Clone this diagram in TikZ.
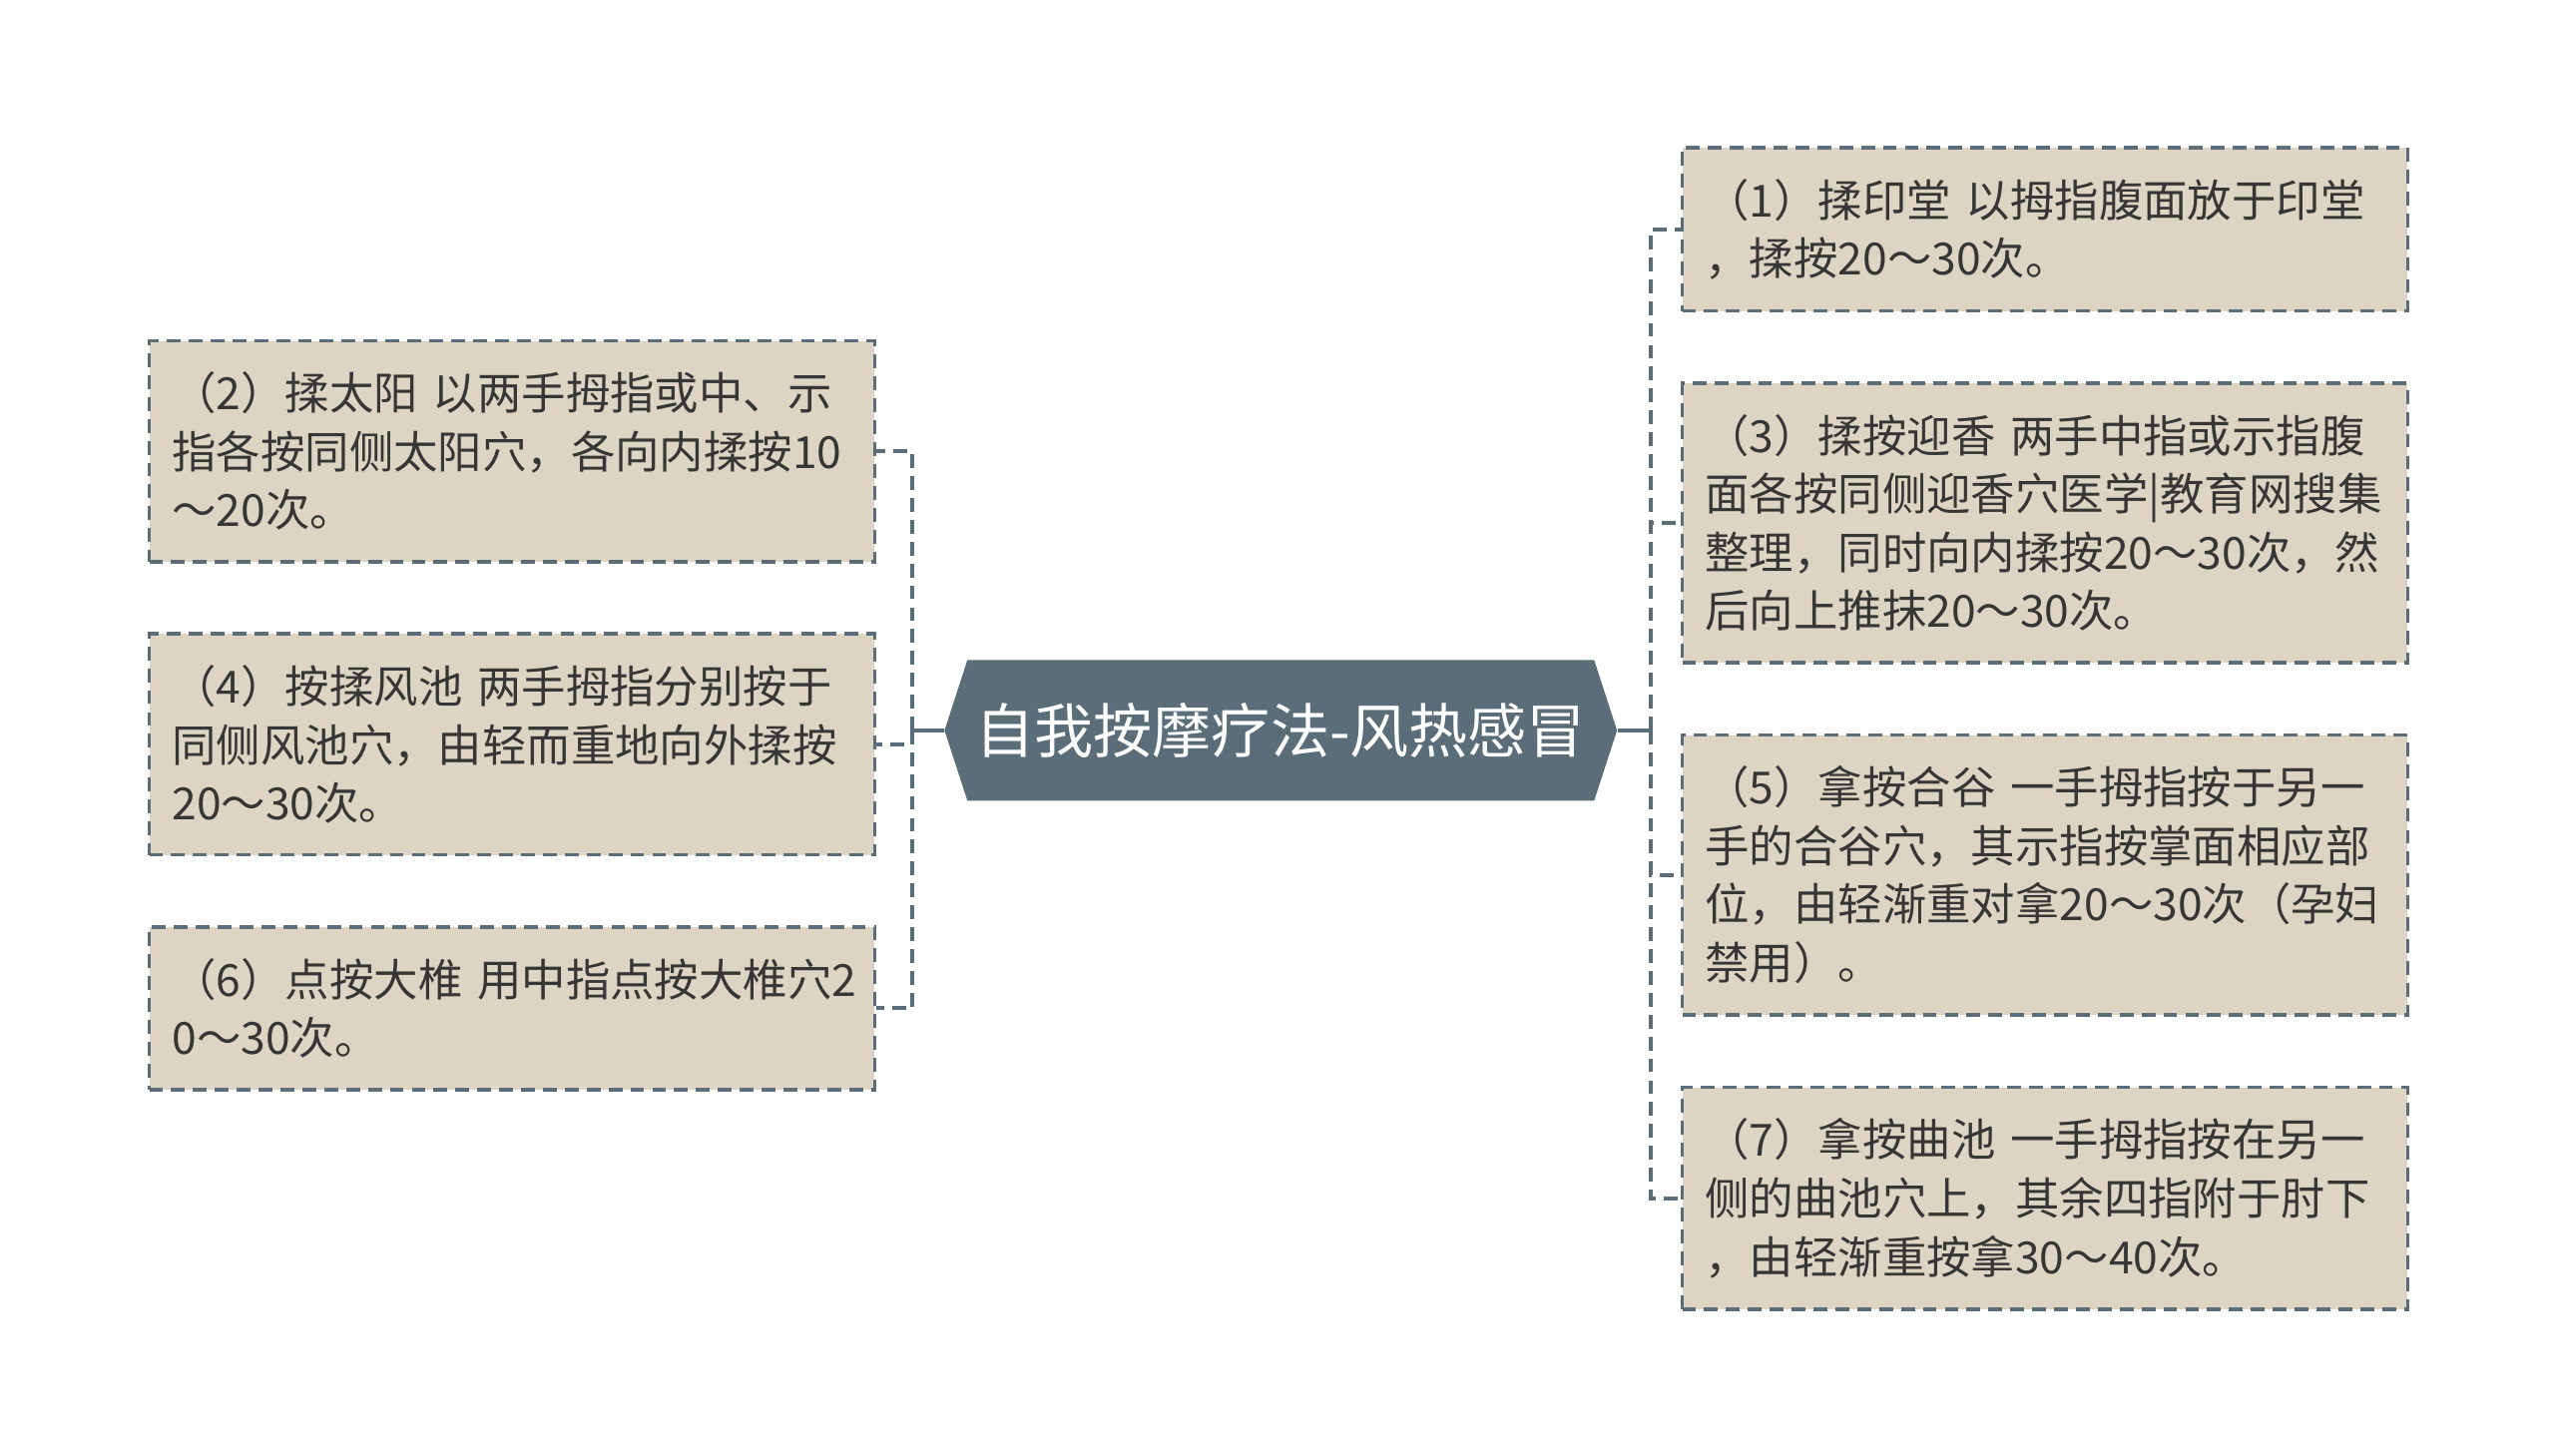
\documentclass[tikz,border=0pt]{standalone}
\usepackage{fontspec}
\newfontfamily\cjk{Noto Sans CJK SC}
\usepackage{xcolor}
\usetikzlibrary{positioning,shapes.symbols}
\definecolor{slate}{HTML}{5B6D79}
\definecolor{sand}{HTML}{DDD4C4}
\definecolor{ink}{HTML}{363636}

\begin{document}
\begin{tikzpicture}[x=0.02cm, y=-0.02cm, node distance=0.84cm,
  every node/.style={font=\cjk, align=left},
  item/.style={draw=slate, fill=sand, dash pattern=on 4.8pt off 2.8pt, line width=1.3pt, text=ink,
    text width=8.3cm, inner xsep=0.28cm, inner ysep=0.38cm, font=\cjk\fontsize{15.4}{20.3}\selectfont},
  hub/.style={signal, signal to=east and west, signal pointer angle=144, fill=slate, text=white,
    minimum width=8.2cm, minimum height=1.72cm, inner xsep=0.1cm, font=\cjk\fontsize{20.5}{24}\selectfont},
  link/.style={draw=slate, line width=1.4pt, dash pattern=on 4.8pt off 2.8pt},
  trunk/.style={draw=slate, line width=1.5pt}]
\useasboundingbox (0,0) rectangle (1560,889);
% Centre
\node[hub] (topic) at (782,446) {自我按摩疗法-风热感冒};
% Left column
\node[item, anchor=north west] (b2) at (90,207) {（2）揉太阳~以两手拇指或中、示\\指各按同侧太阳穴，各向内揉按10\\～20次。};
\node[item, below=of b2] (b4) {（4）按揉风池~两手拇指分别按于\\同侧风池穴，由轻而重地向外揉按\\20～30次。};
\node[item, below=of b4] (b6) {（6）点按大椎~用中指点按大椎穴2\\0～30次。};
% Right column
\node[item, anchor=north west] (b1) at (1026,89) {（1）揉印堂~以拇指腹面放于印堂\\，揉按20～30次。};
\node[item, below=of b1] (b3) {（3）揉按迎香~两手中指或示指腹\\面各按同侧迎香穴医学|教育网搜集\\整理，同时向内揉按20～30次，然\\后向上推抹20～30次。};
\node[item, below=of b3] (b5) {（5）拿按合谷~一手拇指按于另一\\手的合谷穴，其示指按掌面相应部\\位，由轻渐重对拿20～30次（孕妇\\禁用）。};
\node[item, below=of b5] (b7) {（7）拿按曲池~一手拇指按在另一\\侧的曲池穴上，其余四指附于肘下\\，由轻渐重按拿30～40次。};
% Branch points
\coordinate (cl) at (557,446);
\coordinate (cr) at (1008,446);
% Links
\draw[trunk] (topic.west) -- (cl);
\draw[trunk] (topic.east) -- (cr);
\draw[link] (cl) |- (b2.east);
\draw[link] (cl) |- (b4.east);
\draw[link] (cl) |- (b6.east);
\draw[link] (cr) |- (b1.west);
\draw[link] (cr) |- (b3.west);
\draw[link] (cr) |- (b5.west);
\draw[link] (cr) |- (b7.west);
\end{tikzpicture}
\end{document}
